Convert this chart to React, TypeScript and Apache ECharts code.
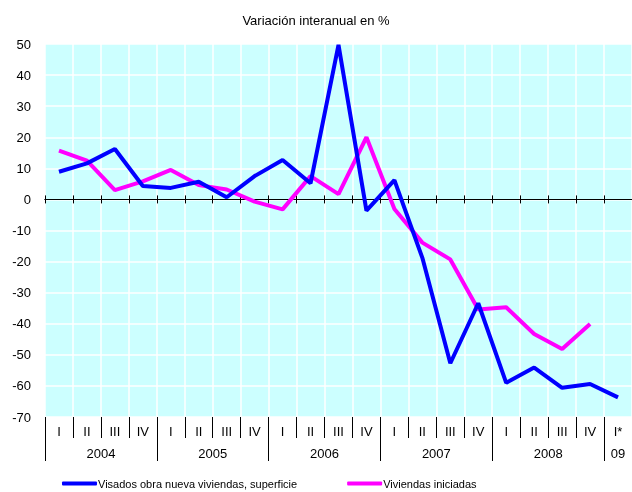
import React, { useEffect, useRef } from "react";
import * as echarts from "echarts";

const quarters = [
  "I", "II", "III", "IV",
  "I", "II", "III", "IV",
  "I", "II", "III", "IV",
  "I", "II", "III", "IV",
  "I", "II", "III", "IV",
  "I*",
];

const yearLabels: { [k: number]: string } = { 4: "2004", 12: "2005", 20: "2006", 28: "2007", 36: "2008", 41: "09" };
const yearTickIdx = [0, 8, 16, 24, 32, 40, 42];
const yearSlots: string[] = Array.from({ length: 43 }, (_, i) => yearLabels[i] ?? "");

const visados = [8.9, 11.6, 16.2, 4.3, 3.7, 5.7, 0.7, 7.5, 12.7, 5.2, 49.7, -3.6, 6.2, -18.8, -52.7, -33.4, -59, -54.1, -60.6, -59.4, -63.7];
const iniciadas = [15.7, 12.5, 3.0, 5.8, 9.5, 4.6, 3.2, -0.7, -3.2, 7.5, 1.7, 20, -3.1, -13.9, -19.3, -35.4, -34.7, -43.3, -48.1, -40.1, null];

const FONT = "'Liberation Sans', Arial, sans-serif";

export default function App() {
  const ref = useRef<HTMLDivElement>(null);
  useEffect(() => {
    if (!ref.current) return;
    const chart = echarts.init(ref.current, undefined, { renderer: "svg" });
    const zeroAxisBase = {
      type: "category",
      data: quarters,
      position: "bottom",
      boundaryGap: true,
      axisLine: { show: true, onZero: true, onZeroAxisIndex: 0, lineStyle: { color: "#000", width: 1 } },
      axisLabel: { show: false },
      splitLine: { show: false },
    };
    chart.setOption({
      animation: false,
      textStyle: { fontFamily: FONT },
      title: {
        text: "Variación interanual en %",
        left: "center",
        top: 9,
        textStyle: { fontSize: 13, fontWeight: "normal", color: "#000", fontFamily: FONT },
      },
      grid: {
        left: 45,
        right: 0,
        top: 44,
        bottom: 75,
        show: true,
        backgroundColor: "#ccffff",
        borderWidth: 0,
      },
      legend: {
        left: 57,
        top: 473,
        itemGap: 50,
        itemWidth: 35,
        itemHeight: 4,
        icon: "roundRect",
        textStyle: { fontSize: 11, color: "#000", fontFamily: FONT, padding: [0, 0, 0, -4] },
        data: ["Visados obra nueva viviendas, superficie", "Viviendas iniciadas"],
      },
      xAxis: [
        {
          type: "category",
          data: quarters,
          position: "bottom",
          boundaryGap: true,
          axisLine: { show: false, onZero: false },
          axisTick: { show: true, interval: 0, length: 21, lineStyle: { color: "#000", width: 1 } },
          axisLabel: { interval: 0, margin: 8, fontSize: 13, color: "#000", fontFamily: FONT },
          splitLine: { show: true, interval: 0, lineStyle: { color: "#ffffff", width: 1.5 } },
        },
        {
          type: "category",
          data: yearSlots,
          position: "bottom",
          boundaryGap: false,
          axisLine: { show: false, onZero: false },
          axisTick: {
            show: true,
            interval: (i: number) => yearTickIdx.indexOf(i) >= 0,
            length: 44,
            lineStyle: { color: "#000", width: 1 },
          },
          axisLabel: {
            interval: (i: number) => yearLabels[i] !== undefined,
            margin: 30,
            fontSize: 13,
            color: "#000",
            fontFamily: FONT,
          },
          splitLine: { show: false },
        },
        { ...zeroAxisBase, axisTick: { show: true, interval: 0, inside: true, length: 4, lineStyle: { color: "#000" } } },
        { ...zeroAxisBase, axisTick: { show: true, interval: 0, inside: false, length: 4, lineStyle: { color: "#000" } } },
      ],
      yAxis: {
        type: "value",
        min: -70,
        max: 50,
        interval: 10,
        axisLine: { show: false },
        axisTick: { show: false },
        axisLabel: { margin: 14, fontSize: 13, color: "#000", fontFamily: FONT },
        splitLine: { show: true, lineStyle: { color: "#ffffff", width: 1.5 } },
      },
      series: [
        {
          name: "Visados obra nueva viviendas, superficie",
          type: "line",
          data: visados,
          xAxisIndex: 0,
          yAxisIndex: 0,
          showSymbol: false,
          symbol: "none",
          lineStyle: { color: "#0000ff", width: 4 },
          itemStyle: { color: "#0000ff" },
          z: 3,
        },
        {
          name: "Viviendas iniciadas",
          type: "line",
          data: iniciadas,
          xAxisIndex: 0,
          yAxisIndex: 0,
          showSymbol: false,
          symbol: "none",
          lineStyle: { color: "#ff00ff", width: 4 },
          itemStyle: { color: "#ff00ff" },
          z: 2,
        },
      ],
    });
    return () => chart.dispose();
  }, []);
  return <div ref={ref} style={{ position: "fixed", left: 0, top: 0, width: 632, height: 492 }} />;
}
